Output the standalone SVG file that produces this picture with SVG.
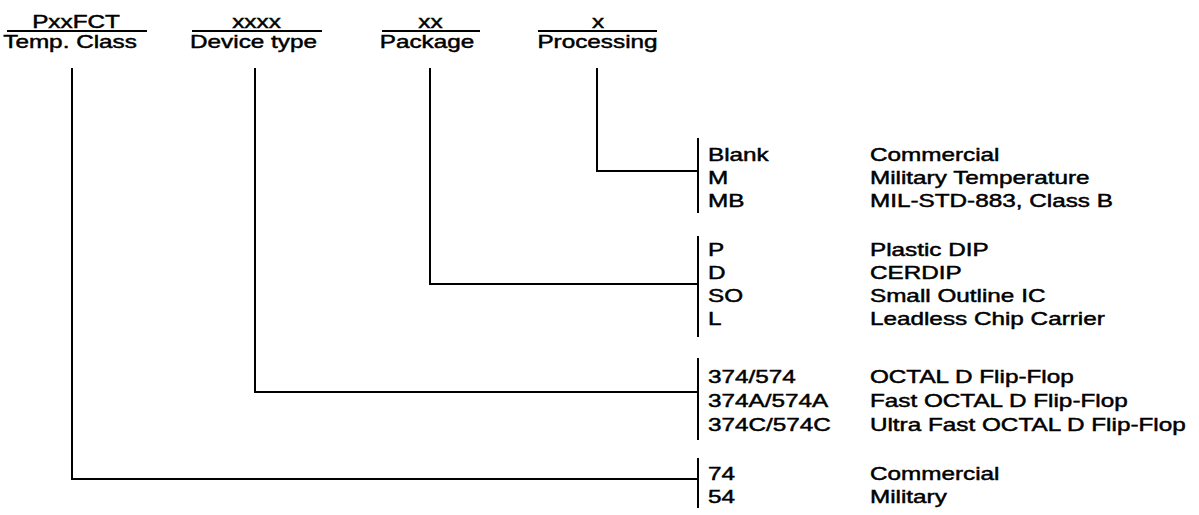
<svg xmlns="http://www.w3.org/2000/svg" width="1199" height="515" viewBox="0 0 1199 515">
<style>
text{font-family:"Liberation Sans",Arial,sans-serif;font-size:18px;fill:#000;stroke:#000;stroke-width:0.45}
.c{text-anchor:middle}
.ln{stroke:#000;stroke-width:2;fill:none}
.bar{stroke:#000;stroke-width:2}
</style>
<rect width="1199" height="515" fill="#fff"/>
<g id="hdr-temp">
<line class="ln" x1="7" y1="31" x2="147" y2="31"/>
<g transform="scale(1.35 1)"><text class="c" x="56.3" y="28">PxxFCT</text><text class="c" x="51.9" y="48">Temp. Class</text></g>
</g>
<g id="hdr-device">
<line class="ln" x1="192" y1="31" x2="322" y2="31"/>
<g transform="scale(1.35 1)"><text class="c" x="190" y="28">xxxx</text><text class="c" x="187.8" y="48">Device type</text></g>
</g>
<g id="hdr-package">
<line class="ln" x1="382" y1="31" x2="480" y2="31"/>
<g transform="scale(1.35 1)"><text class="c" x="318.9" y="28">xx</text><text class="c" x="316.3" y="48">Package</text></g>
</g>
<g id="hdr-processing">
<line class="ln" x1="538" y1="31" x2="657" y2="31"/>
<g transform="scale(1.35 1)"><text class="c" x="443" y="28">x</text><text class="c" x="442.6" y="48">Processing</text></g>
</g>
<g id="opt-processing">
<line class="bar" x1="698" y1="138" x2="698" y2="213"/>
<g transform="scale(1.35 1)">
<text x="524.4" y="161">Blank</text><text x="644.4" y="161">Commercial</text>
<text x="524.4" y="184">M</text><text x="644.4" y="184">Military Temperature</text>
<text x="524.4" y="207">MB</text><text x="644.4" y="207">MIL-STD-883, Class B</text>
</g>
</g>
<g id="opt-package">
<line class="bar" x1="698" y1="236" x2="698" y2="337"/>
<g transform="scale(1.35 1)">
<text x="524.4" y="256">P</text><text x="644.4" y="256">Plastic DIP</text>
<text x="524.4" y="279">D</text><text x="644.4" y="279">CERDIP</text>
<text x="524.4" y="302">SO</text><text x="644.4" y="302">Small Outline IC</text>
<text x="524.4" y="325">L</text><text x="644.4" y="325">Leadless Chip Carrier</text>
</g>
</g>
<g id="opt-device">
<line class="bar" x1="698" y1="358" x2="698" y2="440"/>
<g transform="scale(1.35 1)">
<text x="524.4" y="383">374/574</text><text x="644.4" y="383">OCTAL D Flip-Flop</text>
<text x="524.4" y="407">374A/574A</text><text x="644.4" y="407">Fast OCTAL D Flip-Flop</text>
<text x="524.4" y="431">374C/574C</text><text x="644.4" y="431">Ultra Fast OCTAL D Flip-Flop</text>
</g>
</g>
<g id="opt-temp">
<line class="bar" x1="698" y1="458" x2="698" y2="508"/>
<g transform="scale(1.35 1)">
<text x="524.4" y="480">74</text><text x="644.4" y="480">Commercial</text>
<text x="524.4" y="503">54</text><text x="644.4" y="503">Military</text>
</g>
</g>
<g id="connectors">
<polyline class="ln" points="597,68 597,171 698,171"/>
<polyline class="ln" points="430,68 430,284 698,284"/>
<polyline class="ln" points="255,68 255,392 698,392"/>
<polyline class="ln" points="72,68 72,479 698,479"/>
</g>
</svg>
